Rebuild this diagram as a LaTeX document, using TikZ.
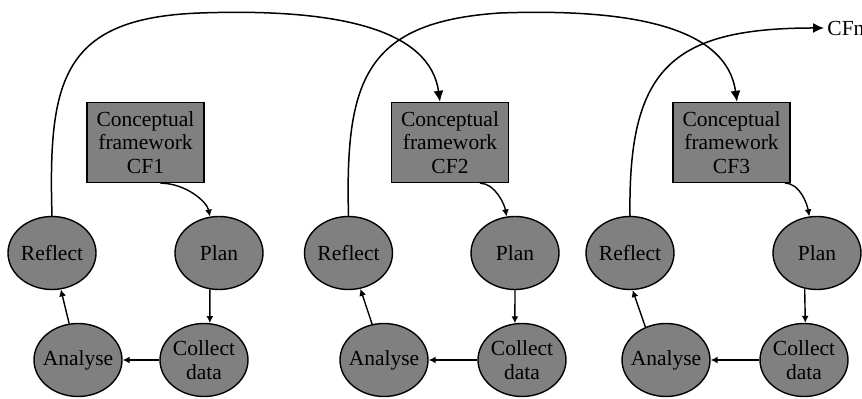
\documentclass[tikz,border=0pt]{standalone}
\usepackage{fontspec}
\setmainfont{Liberation Serif}
\usetikzlibrary{shapes.geometric, arrows.meta}
\tikzset{stage/.style={ellipse, draw=black, fill=gray, line width=.7pt, minimum width=44pt, minimum height=36.5pt, inner xsep=-4pt, inner ysep=0pt, align=center},
	cfbox/.style={rectangle, draw=black, fill=gray, line width=.7pt, minimum width=58.5pt, minimum height=40pt, inner sep=0pt, align=center},
	bigtip/.style={-{Latex[length=5.5pt,width=5pt]}, line width=.75pt},
	smalltip/.style={-{Latex[length=3.5pt,width=3.5pt]}, line width=.7pt}}

\begin{document}
\begin{tikzpicture}[x=.5pt, y=-.5pt, font=\fontsize{10.75}{11.75}\selectfont]
	\useasboundingbox (0,0) rectangle (862,399);
	%Zyklus 1
	\node[cfbox] (boxA) at (145.5,142.5) {Conceptual\\framework\\CF1};
	\node[stage] (reflectA) at (52,253) {Reflect};
	\node[stage] (planA) at (219,253) {Plan};
	\node[stage] (analyseA) at (78,360) {Analyse};
	\node[stage] (collectA) at (204,360) {Collect\\data};
	%Zyklus 2
	\node[cfbox] (boxB) at (450,142.5) {Conceptual\\framework\\CF2};
	\node[stage] (reflectB) at (348.5,253) {Reflect};
	\node[stage] (planB) at (515,253) {Plan};
	\node[stage] (analyseB) at (384,360) {Analyse};
	\node[stage] (collectB) at (522,360) {Collect\\data};
	%Zyklus 3
	\node[cfbox] (boxC) at (731.5,142.5) {Conceptual\\framework\\CF3};
	\node[stage] (reflectC) at (630,253) {Reflect};
	\node[stage] (planC) at (817,253) {Plan};
	\node[stage] (analyseC) at (666,360) {Analyse};
	\node[stage] (collectC) at (804,360) {Collect\\data};
	\node[anchor=west, inner sep=1.5pt] (cfn) at (824,28) {CFn};
	%innere Pfeile
	\draw[smalltip] ([xshift=7.5pt]boxA.south) .. controls +(25,0) and +(-3,-15) .. (planA.104);
	\draw[smalltip] (planA.256) -- (collectA.81);
	\draw[smalltip] (collectA) -- (analyseA);
	\draw[smalltip] (analyseA) -- (reflectA);
	\draw[smalltip] ([xshift=15pt]boxB.south) .. controls +(15,0) and +(-2,-12) .. (planB.103);
	\draw[smalltip] (planB.270) -- (collectB.101);
	\draw[smalltip] (collectB) -- (analyseB);
	\draw[smalltip] (analyseB) -- (reflectB);
	\draw[smalltip] ([xshift=26.75pt]boxC.south) .. controls +(15,0) and +(-2,-12) .. (planC.102);
	\draw[smalltip] (planC.251) -- (collectC.88);
	\draw[smalltip] (collectC) -- (analyseC);
	\draw[smalltip] (analyseC.122) -- (reflectC.274);
	%Boegen zum naechsten Rahmen
	\draw[bigtip] (reflectA.north) .. controls (48,80) and (62,18) .. (200,13)%
		.. controls (340,8) and (430,30) .. ([xshift=-5pt]boxB.north);
	\draw[bigtip] (reflectB.north) .. controls (345,80) and (365,22) .. (500,13)%
		.. controls (640,8) and (727,30) .. ([xshift=2.75pt]boxC.north);
	\draw[bigtip] (reflectC.north) .. controls (628,70) and (670,28) .. (cfn.west);
\end{tikzpicture}
\end{document}
